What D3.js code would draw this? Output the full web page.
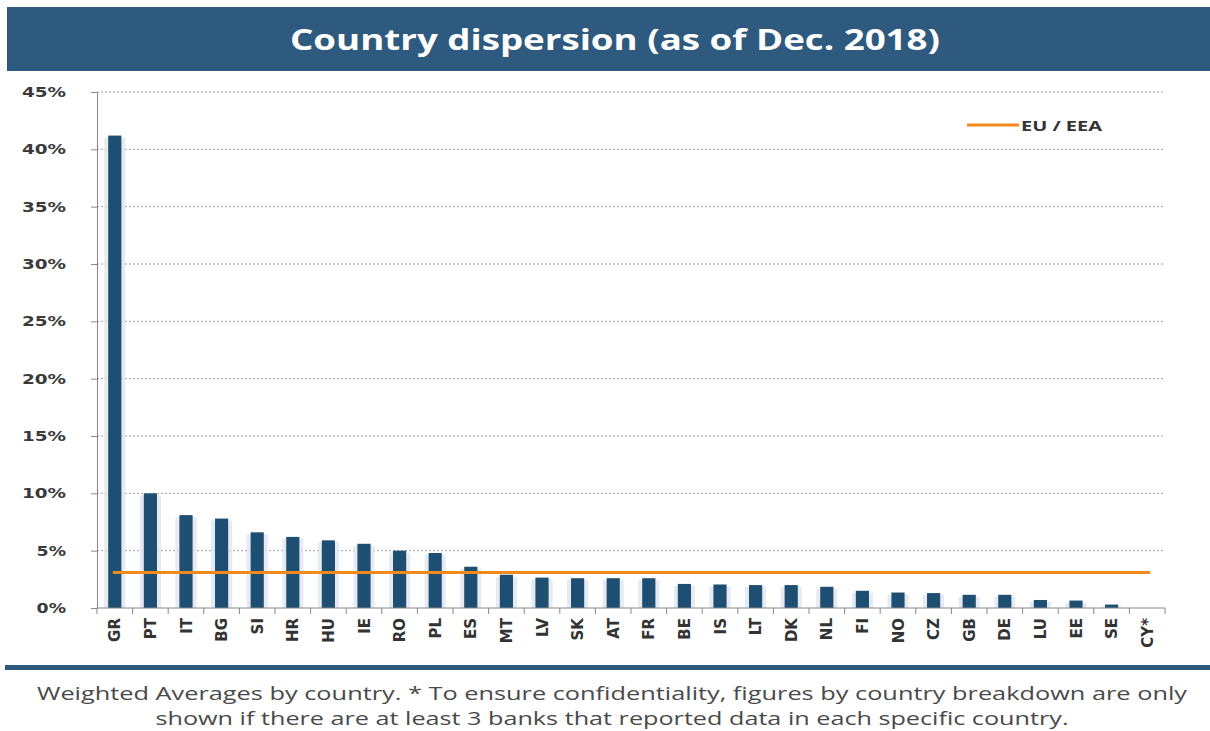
<!DOCTYPE html>
<html>
<head>
<meta charset="utf-8">
<script src="https://cdn.jsdelivr.net/npm/d3@7"></script>
<style>
  html, body { margin: 0; padding: 0; background: #fff; }
  svg { display: block; }
</style>
</head>
<body>
<svg id="chart" width="1210" height="731"></svg>
<script>
// ---- data ----
const categories = ["GR","PT","IT","BG","SI","HR","HU","IE","RO","PL","ES","MT","LV","SK","AT","FR","BE","IS","LT","DK","NL","FI","NO","CZ","GB","DE","LU","EE","SE","CY*"];
const values = [41.2,10.0,8.1,7.8,6.6,6.2,5.9,5.6,5.0,4.8,3.6,2.9,2.65,2.6,2.6,2.6,2.1,2.05,2.0,2.0,1.85,1.5,1.35,1.3,1.15,1.15,0.7,0.65,0.3,0];
const euAverage = 3.1;
const yTicks = [0,5,10,15,20,25,30,35,40,45];
const titleText = "Country dispersion (as of Dec. 2018)";
const legendLabel = "EU / EEA";
const footnoteLines = [
  "Weighted Averages by country. * To ensure confidentiality, figures by country breakdown are only",
  "shown if there are at least 3 banks that reported data in each specific country."
];

// ---- drawing ----
const svg = d3.select("#chart");
const navy = "#2d5a7e";
const barColor = "#1f4e73";
const orange = "#f08a1c";

// header band
svg.append("rect").attr("x", 7).attr("y", 7).attr("width", 1203).attr("height", 64).attr("fill", navy);
svg.append("text").attr("x", 615).attr("y", 50).attr("text-anchor", "middle")
  .attr("font-family", "'Open Sans', sans-serif").attr("font-weight", "bold").attr("font-size", 29)
  .attr("fill", "#fff").attr("textLength", 650).attr("lengthAdjust", "spacingAndGlyphs")
  .text(titleText);

const pLeft = 97, pRight = 1165, pTop = 92, pBottom = 608;
const x = d3.scaleBand().domain(categories).range([pLeft, pRight]).paddingInner(0.63).paddingOuter(0.315);
const y = d3.scaleLinear().domain([0, 45]).range([pBottom, pTop]);

// gridlines
svg.append("g").selectAll("line").data(yTicks.filter(d => d > 0)).join("line")
  .attr("x1", pLeft).attr("x2", 1163).attr("y1", d => y(d)).attr("y2", d => y(d))
  .attr("stroke", "#9a9a9a").attr("stroke-width", 1).attr("stroke-dasharray", "2,2");

// y axis
const yAxis = svg.append("g").attr("transform", `translate(${pLeft},0)`)
  .call(d3.axisLeft(y).tickValues(yTicks).tickFormat(d => d + "%").tickSize(6).tickPadding(25));
yAxis.select(".domain").attr("stroke", "#888");
yAxis.selectAll(".tick line").attr("stroke", "#888");
yAxis.selectAll(".tick text").attr("font-family", "'DejaVu Sans', sans-serif").attr("font-weight", "bold")
  .attr("font-size", 14).attr("fill", "#3a3a3a")
  .attr("textLength", d => (d + "%").length * 14.7).attr("lengthAdjust", "spacingAndGlyphs");

const rows = values.map((v, i) => ({c: categories[i], v}));

// bar shadows
svg.append("g").selectAll("rect").data(rows).join("rect")
  .attr("x", d => x(d.c) - 4).attr("y", d => y(d.v) + 2).attr("width", x.bandwidth() + 8)
  .attr("height", d => Math.max(0, y(0) - y(d.v) - 2)).attr("fill", "#dfe6ec").attr("opacity", d => d.v > 0 ? 0.8 : 0);

// bars
svg.append("g").selectAll("rect").data(rows).join("rect")
  .attr("x", d => x(d.c)).attr("y", d => y(d.v)).attr("width", x.bandwidth())
  .attr("height", d => y(0) - y(d.v)).attr("fill", barColor);

// x axis
const xOuter = d3.scaleBand().domain(categories).range([pLeft, pRight]);
const xAxis = svg.append("g").attr("transform", `translate(0,${pBottom})`);
xAxis.append("line").attr("x1", pLeft).attr("x2", pRight).attr("stroke", "#888");
xAxis.selectAll("line.t").data(categories.concat(["_end"])).join("line").attr("class", "t")
  .attr("x1", (d, i) => pLeft + i * xOuter.step()).attr("x2", (d, i) => pLeft + i * xOuter.step())
  .attr("y1", 0).attr("y2", 6).attr("stroke", "#888");
xAxis.selectAll("text").data(categories).join("text")
  .attr("transform", d => `translate(${xOuter(d) + xOuter.bandwidth() / 2 + 5.5},10) rotate(-90)`)
  .attr("text-anchor", "end")
  .attr("font-family", "'DejaVu Sans', sans-serif").attr("font-weight", "bold").attr("font-size", 15)
  .attr("fill", "#333").text(d => d);

// EU/EEA line
const first = categories[0], last = categories[categories.length - 1];
svg.append("line")
  .attr("x1", x(first) + x.bandwidth() / 2 - 2).attr("x2", x(last) + x.bandwidth() / 2 + 3)
  .attr("y1", y(euAverage)).attr("y2", y(euAverage))
  .attr("stroke", orange).attr("stroke-width", 3);

// legend
svg.append("line").attr("x1", 967).attr("x2", 1019).attr("y1", 125).attr("y2", 125)
  .attr("stroke", orange).attr("stroke-width", 3);
svg.append("text").attr("x", 1021).attr("y", 130.5)
  .attr("font-family", "'Open Sans', sans-serif").attr("font-weight", "bold").attr("font-size", 15)
  .attr("fill", "#333").attr("textLength", 81).attr("lengthAdjust", "spacingAndGlyphs").text(legendLabel);

// footer rule and text
svg.append("rect").attr("x", 5).attr("y", 665).attr("width", 1205).attr("height", 5).attr("fill", navy);
const fw = [1150, 913];
footnoteLines.forEach((t, i) => {
  svg.append("text").attr("x", 612).attr("y", 700 + i * 25).attr("text-anchor", "middle")
    .attr("font-family", "'Open Sans', sans-serif").attr("font-size", 18).attr("fill", "#4a4a4a")
    .attr("textLength", fw[i]).attr("lengthAdjust", "spacingAndGlyphs").text(t);
});
</script>
</body>
</html>
